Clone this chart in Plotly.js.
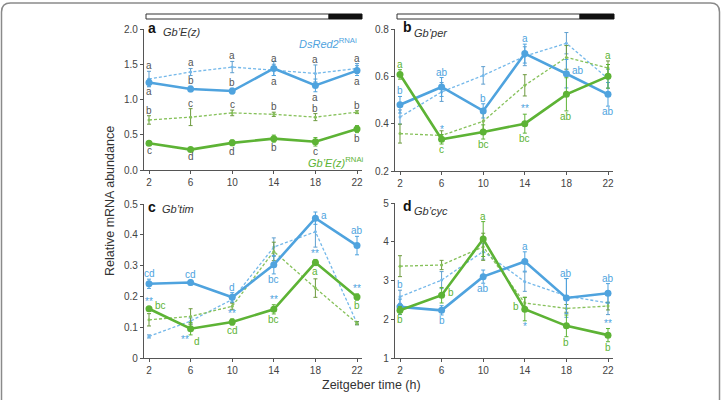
<!DOCTYPE html>
<html>
<head>
<meta charset="utf-8">
<script src="https://cdn.plot.ly/plotly-3.0.1.min.js"></script>
<style>html,body{margin:0;padding:0;background:#fff;}#chart{width:721px;height:400px;}</style>
</head>
<body>
<div id="chart"></div>
<script>
// ---------- data ----------
const zt = [2, 6, 10, 14, 18, 22];
const xTicks = [2, 6, 10, 14, 18, 22];

// panel a: Gb'E(z)
const aBlueSolid = [1.24, 1.15, 1.12, 1.44, 1.20, 1.41];
const aBlueSolidErr = [0.05, 0.04, 0.04, 0.10, 0.09, 0.07];
const aBlueDash = [1.29, 1.39, 1.46, 1.42, 1.37, 1.44];
const aBlueDashErr = [0.11, 0.05, 0.08, 0.08, 0.12, 0.07];
const aGreenSolid = [0.38, 0.29, 0.385, 0.445, 0.40, 0.58];
const aGreenSolidErr = [0.02, 0.02, 0.04, 0.05, 0.06, 0.05];
const aGreenDash = [0.71, 0.75, 0.81, 0.79, 0.75, 0.82];
const aGreenDashErr = [0.06, 0.12, 0.04, 0.03, 0.05, 0.02];

// panel b: Gb'per
const bBlueSolid = [0.48, 0.555, 0.454, 0.696, 0.611, 0.524];
const bBlueSolidErr = [0.035, 0.04, 0.03, 0.04, 0.06, 0.05];
const bBlueDash = [0.428, 0.534, 0.604, 0.685, 0.74, 0.59];
const bBlueDashErr = [0.03, 0.04, 0.037, 0.04, 0.045, 0.04];
const bGreenSolid = [0.608, 0.334, 0.365, 0.40, 0.524, 0.60];
const bGreenSolidErr = [0.02, 0.02, 0.03, 0.04, 0.07, 0.05];
const bGreenDash = [0.358, 0.35, 0.41, 0.562, 0.68, 0.635];
const bGreenDashErr = [0.04, 0.02, 0.05, 0.045, 0.05, 0.03];

// panel c: Gb'tim
const cBlueSolid = [0.241, 0.245, 0.197, 0.303, 0.454, 0.365];
const cBlueSolidErr = [0.015, 0.008, 0.015, 0.03, 0.02, 0.03];
const cBlueDash = [0.07, 0.12, 0.19, 0.36, 0.41, 0.113];
const cBlueDashErr = [0.005, 0.01, 0.01, 0.03, 0.05, 0.005];
const cGreenSolid = [0.16, 0.095, 0.117, 0.158, 0.31, 0.198];
const cGreenSolidErr = [0.005, 0.02, 0.01, 0.015, 0.01, 0.01];
const cGreenDash = [0.124, 0.135, 0.168, 0.346, 0.227, 0.113];
const cGreenDashErr = [0.02, 0.025, 0.01, 0.03, 0.03, 0.005];

// panel d: Gb'cyc
const dBlueSolid = [2.32, 2.23, 3.10, 3.49, 2.55, 2.67];
const dBlueSolidErr = [0.2, 0.12, 0.17, 0.25, 0.5, 0.25];
const dBlueDash = [2.58, 3.01, 3.75, 2.97, 2.60, 2.42];
const dBlueDashErr = [0.17, 0.22, 0.2, 0.25, 0.45, 0.3];
const dGreenSolid = [2.23, 2.62, 4.07, 2.26, 1.83, 1.59];
const dGreenSolidErr = [0.1, 0.2, 0.45, 0.3, 0.28, 0.17];
const dGreenDash = [3.37, 3.40, 3.87, 2.42, 2.28, 2.34];
const dGreenDashErr = [0.27, 0.12, 0.35, 0.15, 0.1, 0.1];

const panelLetters = ['a', 'b', 'c', 'd'];
const geneNames = ['Gb’E(z)', 'Gb’per', 'Gb’tim', 'Gb’cyc'];
const yRanges = [[0, 2], [0.2, 0.8], [0, 0.5], [1, 5]];
const yTickVals = [[0, 0.5, 1, 1.5, 2], [0.2, 0.4, 0.6, 0.8], [0, 0.1, 0.2, 0.3, 0.4, 0.5], [1, 2, 3, 4, 5]];
const yTickText = [['0.0', '0.5', '1.0', '1.5', '2.0'], ['0.2', '0.4', '0.6', '0.8'], ['0', '0.1', '0.2', '0.3', '0.4', '0.5'], ['1', '2', '3', '4', '5']];

// significance letters: [panel, index, series, position, text, colour key]
const sigLabels = [
  // a
  [0,0,'bd','above','a','g'],[0,1,'bd','above','a','g'],[0,2,'bd','above','a','g'],[0,3,'bd','above','a','g'],[0,4,'bd','above','a','g'],[0,5,'bd','above','a','g'],
  [0,0,'bs','below','a','g'],[0,1,'bs','above','b','g'],[0,2,'bs','above','b','g'],[0,3,'bs','below','a','g'],[0,4,'bs','below','a','g'],[0,5,'bs','below','a','g'],
  [0,0,'gd','above','b','g'],[0,1,'gd','above','c','g'],[0,2,'gd','above','c','g'],[0,3,'gd','above','b','g'],[0,4,'gd','above','b','g'],[0,5,'gd','above','b','g'],
  [0,0,'gs','below','c','g'],[0,1,'gs','below','d','g'],[0,2,'gs','below','d','g'],[0,3,'gs','below','b','g'],[0,4,'gs','below','c','g'],[0,5,'gs','below','b','g'],
  // b
  [1,0,'bs','above','b','b'],[1,1,'bs','above','ab','b'],[1,2,'bs','above','b','b'],[1,3,'bs','above','a','b'],[1,4,'bs','right','ab','b'],[1,5,'bs','below','ab','b'],
  [1,0,'gs','above','a','G'],[1,1,'gs','below','c','G'],[1,2,'gs','below','bc','G'],[1,3,'gs','below','bc','G'],[1,4,'gs','below','ab','G'],[1,5,'gd','above','a','G'],
  [1,1,'gs','above','*','b'],[1,3,'gs','above','**','b'],
  // c
  [2,0,'bs','above','cd','b'],[2,1,'bs','above','cd','b'],[2,2,'bs','above','d','b'],[2,3,'bs','below','bc','b'],[2,4,'bs','right','a','b'],[2,5,'bs','above','ab','b'],
  [2,0,'gs','right','bc','G'],[2,1,'gs','belowR','d','G'],[2,2,'gs','below','cd','G'],[2,3,'gs','below','bc','G'],[2,4,'gs','below','a','G'],[2,5,'gs','below','b','G'],
  [2,0,'gs','above','**','b'],[2,1,'gs','belowL','**','b'],[2,2,'gs','above','**','b'],[2,3,'gs','above','**','b'],[2,4,'gs','above','**','b'],[2,5,'gs','above','**','b'],
  // d
  [3,0,'bd','above','b','b'],[3,1,'bs','below','b','b'],[3,2,'bs','below','ab','b'],[3,3,'bs','above','a','b'],[3,4,'bs','above','ab','b'],[3,5,'bs','above','ab','b'],
  [3,0,'gs','below','b','G'],[3,1,'gs','right','b','G'],[3,2,'gs','above','a','G'],[3,3,'gs','left','b','G'],[3,4,'gs','below','b','G'],[3,5,'gs','below','b','G'],
  [3,3,'gs','below','*','b'],[3,5,'gs','above','**','b']
];

// ---------- styling ----------
const W = 721, H = 400;
const BLUE = '#4fa3de', BLUE_D = '#74b8ea';
const GREEN = '#5db335', GREEN_D = '#86c15a';
const LETTER_COL = {g: '#555555', b: '#4fa3de', G: '#5db335'};
const px = (v) => v / W, py = (v) => 1 - v / H;

const xDomains = [[px(143.8), px(362.2)], [px(394.8), px(613.2)], [px(143.8), px(362.2)], [px(394.8), px(613.2)]];
const yDomains = [[py(170), py(29)], [py(171), py(29)], [py(358), py(204)], [py(358), py(203)]];
// panel letter / gene-name pixel positions [letterX, letterY, geneX, geneY]
const headPos = [[146, 28, 161, 32], [401, 27, 412, 33], [146, 207, 160, 209], [401, 206, 412, 211]];

const panels = [
  {bs: aBlueSolid, bse: aBlueSolidErr, bd: aBlueDash, bde: aBlueDashErr, gs: aGreenSolid, gse: aGreenSolidErr, gd: aGreenDash, gde: aGreenDashErr},
  {bs: bBlueSolid, bse: bBlueSolidErr, bd: bBlueDash, bde: bBlueDashErr, gs: bGreenSolid, gse: bGreenSolidErr, gd: bGreenDash, gde: bGreenDashErr},
  {bs: cBlueSolid, bse: cBlueSolidErr, bd: cBlueDash, bde: cBlueDashErr, gs: cGreenSolid, gse: cGreenSolidErr, gd: cGreenDash, gde: cGreenDashErr},
  {bs: dBlueSolid, bse: dBlueSolidErr, bd: dBlueDash, bde: dBlueDashErr, gs: dGreenSolid, gse: dGreenSolidErr, gd: dGreenDash, gde: dGreenDashErr}
];

const traces = [];
const layout = {
  width: W, height: H,
  margin: {l: 0, r: 0, t: 0, b: 0},
  paper_bgcolor: '#fff', plot_bgcolor: 'rgba(0,0,0,0)',
  showlegend: false,
  font: {family: 'Liberation Sans, Arial, sans-serif', color: '#444', size: 10},
  annotations: [], shapes: []
};

panels.forEach((p, i) => {
  const sfx = i === 0 ? '' : String(i + 1);
  const xa = 'x' + sfx, ya = 'y' + sfx;
  const dashed = (y, e, col, ecol) => ({
    x: zt, y: y, xaxis: xa, yaxis: ya, type: 'scatter', mode: 'lines+markers',
    line: {color: col, width: 1.3, dash: '3px,2px'},
    marker: {color: col, size: 3},
    error_y: {type: 'data', array: e, visible: true, color: ecol, thickness: 1, width: 2}
  });
  const solid = (y, e, col) => ({
    x: zt, y: y, xaxis: xa, yaxis: ya, type: 'scatter', mode: 'lines+markers',
    line: {color: col, width: 2.6},
    marker: {color: col, size: 7},
    error_y: {type: 'data', array: e, visible: true, color: col, thickness: 1, width: 2}
  });
  traces.push(dashed(p.bd, p.bde, BLUE_D, '#5f9fcf'));
  traces.push(dashed(p.gd, p.gde, GREEN_D, '#6d9a3e'));
  traces.push(solid(p.bs, p.bse, BLUE));
  traces.push(solid(p.gs, p.gse, GREEN));

  layout['xaxis' + sfx] = {
    domain: xDomains[i], anchor: ya, range: [1.5, 22.5],
    tickvals: xTicks, ticktext: xTicks.map(String),
    showline: true, linecolor: '#555', linewidth: 1,
    ticks: 'outside', ticklen: 3, tickcolor: '#555',
    showgrid: false, zeroline: false, fixedrange: true,
    tickfont: {size: 10, color: '#444'}
  };
  layout['yaxis' + sfx] = {
    domain: yDomains[i], anchor: xa, range: yRanges[i],
    tickvals: yTickVals[i], ticktext: yTickText[i],
    showline: true, linecolor: '#555', linewidth: 1,
    ticks: 'outside', ticklen: 3, tickcolor: '#555',
    showgrid: false, zeroline: false, fixedrange: true,
    tickfont: {size: 10, color: '#444'}
  };

  const [lx, ly, gx, gy] = headPos[i];
  layout.annotations.push({xref: 'paper', yref: 'paper', x: px(lx), y: py(ly), xanchor: 'left', yanchor: 'middle',
    text: '<b>' + panelLetters[i] + '</b>', showarrow: false, font: {size: 14, color: '#111'}});
  layout.annotations.push({xref: 'paper', yref: 'paper', x: px(gx), y: py(gy), xanchor: 'left', yanchor: 'middle',
    text: '<i>' + geneNames[i] + '</i>', showarrow: false, font: {size: 11, color: '#333'}});
});

// significance letters, placed relative to the plotted points
sigLabels.forEach(([pi, idx, ser, pos, txt, ck]) => {
  const p = panels[pi];
  const sfx = pi === 0 ? '' : String(pi + 1);
  const val = p[ser][idx], err = p[ser + 'e'][idx];
  const a = {xref: 'x' + sfx, yref: 'y' + sfx, x: zt[idx], showarrow: false, text: txt,
    font: {size: 10, color: LETTER_COL[ck]}};
  if (pos === 'above') { a.y = val + err; a.yanchor = 'bottom'; a.yshift = -2; }
  else if (pos === 'below') { a.y = val - err; a.yanchor = 'top'; a.yshift = 2; }
  else if (pos === 'belowR') { a.y = val - err; a.yanchor = 'top'; a.xshift = 6; a.yshift = 1; }
  else if (pos === 'belowL') { a.y = val - err; a.yanchor = 'top'; a.xshift = -6; a.yshift = 3; }
  else if (pos === 'right') { a.y = val; a.xanchor = 'left'; a.xshift = 4; a.yshift = 3; }
  else if (pos === 'left') { a.y = val; a.xanchor = 'right'; a.xshift = -4; a.yshift = 3; }
  layout.annotations.push(a);
});

// series labels in panel a
layout.annotations.push({xref: 'paper', yref: 'paper', x: px(297), y: py(43), xanchor: 'left', yanchor: 'middle', showarrow: false,
  text: '<i>DsRed2</i><sup>RNAi</sup>', font: {size: 11, color: BLUE}});
layout.annotations.push({xref: 'paper', yref: 'paper', x: px(306), y: py(162), xanchor: 'left', yanchor: 'middle', showarrow: false,
  text: '<i>Gb’E(z)</i><sup>RNAi</sup>', font: {size: 11, color: GREEN}});

// axis titles
layout.annotations.push({xref: 'paper', yref: 'paper', x: px(110), y: py(201), xanchor: 'center', yanchor: 'middle', showarrow: false, textangle: -90,
  text: 'Relative mRNA abundance', font: {size: 12.5, color: '#333'}});
layout.annotations.push({xref: 'paper', yref: 'paper', x: px(371), y: py(394), showarrow: false,
  text: 'Zeitgeber time (h)', font: {size: 12.5, color: '#333'}});

// light/dark bars above the top panels
[[146, 329, 362], [397, 580, 614]].forEach(([x0, xm, x1]) => {
  layout.shapes.push({type: 'rect', xref: 'paper', yref: 'paper', x0: px(x0), x1: px(xm), y0: py(19), y1: py(14),
    line: {color: '#333', width: 1}, fillcolor: '#fff'});
  layout.shapes.push({type: 'rect', xref: 'paper', yref: 'paper', x0: px(xm), x1: px(x1), y0: py(19), y1: py(14),
    line: {color: '#111', width: 1}, fillcolor: '#111'});
});

// rounded outer frame
(function () {
  const l = px(1.5), r = px(719.5), t = py(3), b = py(420);
  const rx = px(9), ry = 9 / H;
  const path = `M ${l},${b} L ${l},${t - ry} Q ${l},${t} ${l + rx},${t} L ${r - rx},${t} Q ${r},${t} ${r},${t - ry} L ${r},${b}`;
  layout.shapes.push({type: 'path', xref: 'paper', yref: 'paper', path: path, line: {color: '#8a8a8a', width: 1.5}});
})();

Plotly.newPlot('chart', traces, layout, {staticPlot: true, displayModeBar: false});
</script>
</body>
</html>
